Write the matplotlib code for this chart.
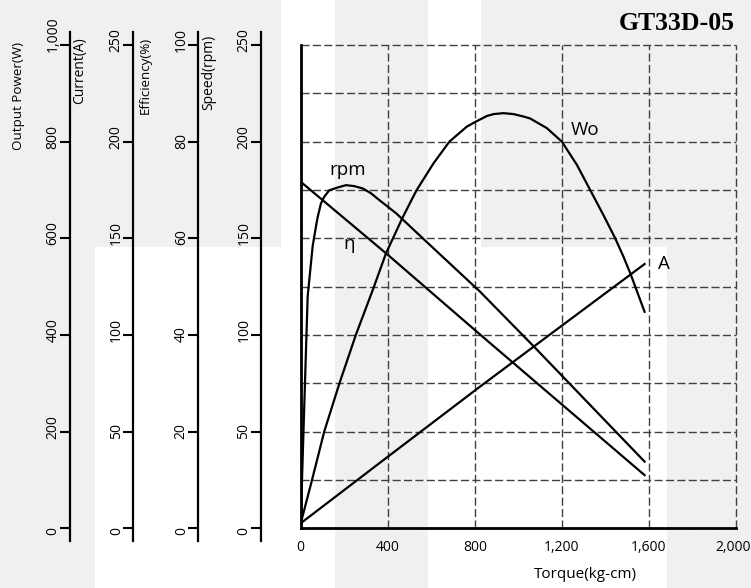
import matplotlib
matplotlib.use('Agg')
import matplotlib.pyplot as plt
from matplotlib.patches import Rectangle
from matplotlib.transforms import ScaledTranslation

plt.rcParams['font.family'] = ['Open Sans', 'DejaVu Sans']

# ---------------- data ----------------
torque_wo = [0, 52, 108, 178, 254, 331, 392, 466, 510, 533, 610, 683, 763, 803, 855, 886,
             932, 978, 1024, 1054, 1131, 1200, 1269, 1330, 1391, 1445, 1483, 1514, 1580]
power_w = [10, 100, 200, 300, 401, 493, 569, 641, 680, 700, 755, 800, 831, 841, 853, 857,
           859, 857, 852, 848, 828, 800, 752, 700, 648, 600, 562, 528, 448]

torque_rpm = [0, 16, 32, 55, 70, 78, 93, 108, 131, 170, 208, 246, 285, 323, 361, 438,
              561, 824, 1075, 1580]
speed_rpm = [2.8, 62, 120, 146, 156, 161, 168, 171.5, 174.8, 176.3, 177.5, 177, 175.8,
             173.3, 169.8, 163, 150, 122.4, 93.6, 34.5]

torque_eff = [0, 400, 824, 1580]
efficiency = [71.7, 56.6, 40.1, 11.0]

torque_amp = [0, 400, 824, 1580]
current_a = [2.6, 37.0, 73.3, 136.7]

x_ticks = [0, 400, 800, 1200, 1600, 2000]
x_tick_labels = ['0', '400', '800', '1,200', '1,600', '2,000']

power_ticks = [0, 200, 400, 600, 800, 1000]
power_tick_labels = ['0', '200', '400', '600', '800', '1,000']
current_ticks = [0, 50, 100, 150, 200, 250]
eff_ticks = [0, 20, 40, 60, 80, 100]
speed_ticks = [0, 50, 100, 150, 200, 250]

title = 'GT33D-05'

# ---------------- figure ----------------
W, H = 751, 588
fig = plt.figure(figsize=(W / 100, H / 100), dpi=100)
fig.patch.set_facecolor('white')

def fx(px):
    return px / W

def fy(py):
    return 1 - py / H

# background grey patches
grey = '#f0f0f0'
for (x0, y0, x1, y1) in [(0, 0, 95, 588), (95, 0, 281, 247), (335, 0, 428, 588),
                         (481, 0, 751, 247), (667, 247, 751, 588)]:
    fig.patches.append(Rectangle((fx(x0), fy(y1)), fx(x1) - fx(x0), fy(y0) - fy(y1),
                                 transform=fig.transFigure, facecolor=grey,
                                 edgecolor='none', zorder=-10))

# ---------------- main plot ----------------
L, R, T, B = 300.7, 736, 45, 528.3
pos = [fx(L), fy(B), fx(R) - fx(L), (B - T) / H]
ax = fig.add_axes(pos)
ax.set_facecolor('none')
ax.set_xlim(0, 2000)
ax.set_ylim(0, 1000)
ax.set_xticks(x_ticks)
ax.set_xticklabels(x_tick_labels)
ax.set_yticks(range(0, 1001, 100))
ax.set_yticklabels([])
ax.tick_params(axis='x', length=0, pad=8.5, labelsize=10)
ax.tick_params(axis='y', length=0)
# keep the last x label inside the canvas, as in the reference
last = ax.get_xticklabels()[-1]
last.set_transform(last.get_transform() + ScaledTranslation(-3 / 100, 0, fig.dpi_scale_trans))
ax.grid(True, color='#404040', lw=1.0, ls=(0, (5.8, 2.4)))
for ln in ax.get_xgridlines() + ax.get_ygridlines():
    ln.set_clip_on(False)
for s in ['top', 'right']:
    ax.spines[s].set_visible(False)
for s in ['left', 'bottom']:
    ax.spines[s].set_linewidth(2.0)
    ax.spines[s].set_zorder(5)

lw = 1.6
ax.plot(torque_wo, power_w, color='black', lw=lw, zorder=4, solid_joinstyle='round')

ax_c = fig.add_axes(pos, sharex=ax)
ax_c.set_ylim(0, 250)
ax_c.axis('off')
ax_c.plot(torque_amp, current_a, color='black', lw=lw)

ax_e = fig.add_axes(pos, sharex=ax)
ax_e.set_ylim(0, 100)
ax_e.axis('off')
ax_e.plot(torque_eff, efficiency, color='black', lw=lw)

ax_s = fig.add_axes(pos, sharex=ax)
ax_s.set_ylim(0, 250)
ax_s.axis('off')
ax_s.plot(torque_rpm, speed_rpm, color='black', lw=lw, solid_joinstyle='round')

# curve labels (in the output-power scale)
lab_fs = 13.5
ax.text(217, 730, 'rpm', ha='center', va='baseline', fontsize=lab_fs)
ax.text(223, 578, 'η', ha='center', va='baseline', fontsize=lab_fs)
ax.text(1305, 814, 'Wo', ha='center', va='baseline', fontsize=lab_fs)
ax.text(1670, 537, 'A', ha='center', va='baseline', fontsize=lab_fs)

# ---------------- left scale axes ----------------
sp_top, sp_bot = 32.3, 540.7
lo_f, hi_f = (sp_bot - B) / (B - T), (T - sp_top) / (B - T)
scales = [
    (70.0, 1000, power_ticks, power_tick_labels),
    (133.3, 250, current_ticks, [str(v) for v in current_ticks]),
    (198.3, 100, eff_ticks, [str(v) for v in eff_ticks]),
    (261.0, 250, speed_ticks, [str(v) for v in speed_ticks]),
]
for xs, rng, ticks, labels in scales:
    a = fig.add_axes([fx(xs), fy(sp_bot), 0.001, (sp_bot - sp_top) / H])
    a.set_facecolor('none')
    a.set_ylim(-lo_f * rng, (1 + hi_f) * rng)
    a.set_xticks([])
    for s in ['top', 'right', 'bottom']:
        a.spines[s].set_visible(False)
    a.spines['left'].set_linewidth(1.6)
    a.set_yticks(ticks)
    a.set_yticklabels(labels)
    a.tick_params(axis='y', direction='out', length=7.5, width=1.5, pad=2.2,
                  labelsize=10)
    off = ScaledTranslation(0, -7 / 100, fig.dpi_scale_trans)
    for lab in a.get_yticklabels():
        lab.set_rotation(90)
        lab.set_rotation_mode('anchor')
        lab.set_ha('left')
        lab.set_va('baseline')
        lab.set_transform(lab.get_transform() + off)

# axis titles
fig.text(fx(18.3), fy(41.7), 'Output Power(W)', rotation=90, ha='center', va='top', fontsize=9.6)
fig.text(fx(80), fy(37), 'Current(A)', rotation=90, ha='center', va='top', fontsize=10)
fig.text(fx(145), fy(37), 'Efficiency(%)', rotation=90, ha='center', va='top', fontsize=9.6)
fig.text(fx(209), fy(35), 'Speed(rpm)', rotation=90, ha='center', va='top', fontsize=10)

fig.text(fx(585), fy(575), 'Torque(kg-cm)', ha='center', va='center', fontsize=11)

fig.text(fx(735), fy(29.5), title, ha='right', va='baseline', fontsize=18.5,
         fontweight='bold', family=['Liberation Serif', 'DejaVu Serif'])

fig.savefig('out.png', dpi=100, facecolor='white')
